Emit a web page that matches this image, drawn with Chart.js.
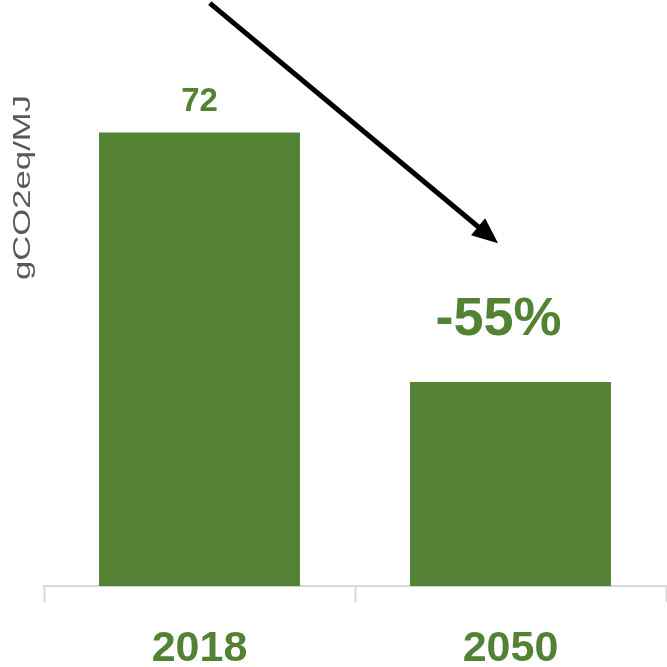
<!DOCTYPE html>
<html>
<head>
<meta charset="utf-8">
<script src="https://cdn.jsdelivr.net/npm/chart.js@4"></script>
<style>
  html, body { margin: 0; padding: 0; background: #ffffff; }
  #wrap { width: 667px; height: 667px; }
</style>
</head>
<body>
<div id="wrap"><canvas id="chart"></canvas></div>
<script>
const years = ["2018", "2050"];
const emissions = [72, 32.4];
const valueLabels = ["72", "-55%"];
const axisTitle = "gCO2eq/MJ";

const GREEN = "#548235";

// arrow from above the 2018 bar down towards the 2050 bar, in data units
const arrowFrom = { x: 0.033, y: 92.5 };
const arrowTo = { x: 0.96, y: 54.4 };

const annotations = {
  id: "annotations",
  afterDatasetsDraw(chart) {
    const { ctx, chartArea, scales } = chart;
    const bars = chart.getDatasetMeta(0).data;

    ctx.save();
    ctx.fillStyle = GREEN;
    ctx.textAlign = "center";
    ctx.textBaseline = "alphabetic";

    ctx.font = "bold 33px 'Liberation Sans', Arial, sans-serif";
    ctx.fillText(valueLabels[0], bars[0].x, bars[0].y - 21);

    ctx.font = "bold 54px 'Liberation Sans', Arial, sans-serif";
    ctx.fillText(valueLabels[1], bars[1].x - 12, bars[1].y - 47);

    // arrow
    const x1 = scales.x.getPixelForValue(arrowFrom.x);
    const y1 = scales.y.getPixelForValue(arrowFrom.y);
    const x2 = scales.x.getPixelForValue(arrowTo.x);
    const y2 = scales.y.getPixelForValue(arrowTo.y);
    const angle = Math.atan2(y2 - y1, x2 - x1);
    const headLen = 26;
    const headHalf = 11;
    const bx = x2 - headLen * Math.cos(angle);
    const by = y2 - headLen * Math.sin(angle);

    ctx.strokeStyle = "#000000";
    ctx.lineWidth = 5;
    ctx.beginPath();
    ctx.moveTo(x1, y1);
    ctx.lineTo(bx + 4 * Math.cos(angle), by + 4 * Math.sin(angle));
    ctx.stroke();

    ctx.fillStyle = "#000000";
    ctx.beginPath();
    ctx.moveTo(x2, y2);
    ctx.lineTo(bx + headHalf * Math.sin(angle), by - headHalf * Math.cos(angle));
    ctx.lineTo(bx - headHalf * Math.sin(angle), by + headHalf * Math.cos(angle));
    ctx.closePath();
    ctx.fill();

    // rotated axis title
    ctx.font = "24px 'Liberation Sans', Arial, sans-serif";
    const w = ctx.measureText(axisTitle).width;
    ctx.fillStyle = "#595959";
    ctx.translate(chartArea.left - 14, 187.5);
    ctx.rotate(-Math.PI / 2);
    ctx.scale(185 / w, 1);
    ctx.fillText(axisTitle, 0, 0);
    ctx.restore();
  },
};

new Chart(document.getElementById("chart"), {
  type: "bar",
  data: {
    labels: years,
    datasets: [
      {
        data: emissions,
        backgroundColor: GREEN,
        borderWidth: 0,
        categoryPercentage: 1,
        barPercentage: 0.646,
      },
    ],
  },
  options: {
    responsive: true,
    maintainAspectRatio: false,
    animation: false,
    layout: {
      padding: { left: 44, right: 1, top: 0, bottom: -28 },
    },
    plugins: {
      legend: { display: false },
      tooltip: { enabled: false },
    },
    scales: {
      x: {
        offset: true,
        border: { display: true, color: "#d9d9d9", width: 2 },
        grid: {
          display: true,
          offset: true,
          drawOnChartArea: false,
          drawTicks: true,
          tickLength: 16,
          tickWidth: 2,
          tickColor: "#d9d9d9",
        },
        ticks: {
          color: GREEN,
          padding: 27,
          font: { family: "'Liberation Sans', Arial, sans-serif", size: 43, weight: "bold", lineHeight: 0.9 },
        },
      },
      y: {
        display: false,
        min: 0,
        max: 93,
      },
    },
  },
  plugins: [annotations],
});
</script>
</body>
</html>
